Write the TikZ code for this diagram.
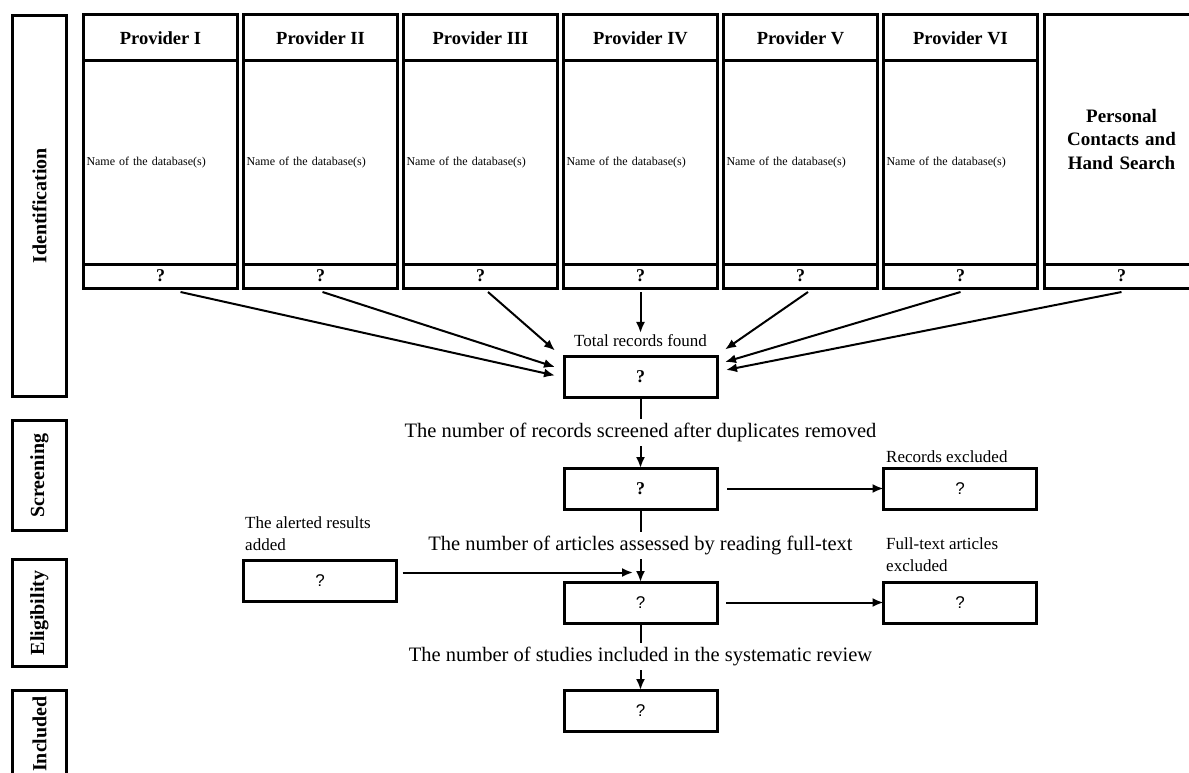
\documentclass[tikz,border=0pt]{standalone}
\usepackage{fontspec}
\setmainfont{Liberation Serif}
\setsansfont{Liberation Sans}
\usetikzlibrary{arrows.meta,positioning,calc}

\begin{document}
\begin{tikzpicture}[
    x=1pt, y=-1pt,
    node distance=0pt,
    phase/.style={rectangle, draw, line width=3pt, minimum height=54pt, rotate=90, inner sep=0pt, font=\fontsize{20}{24}\selectfont\bfseries},
    headbox/.style={rectangle, draw, line width=3pt, minimum width=154pt, minimum height=46pt, outer sep=0pt, inner sep=2pt, font=\fontsize{18.5}{22}\selectfont\bfseries},
    dbbox/.style={rectangle, draw, line width=3pt, minimum width=154pt, minimum height=203pt, outer sep=0pt, inner xsep=3pt, text width=148pt, align=left, font=\fontsize{12}{14}\selectfont},
    handbox/.style={rectangle, draw, line width=3pt, minimum width=154pt, minimum height=249pt, outer sep=0pt, text width=140pt, align=center, font=\fontsize{19}{23.5}\selectfont\bfseries},
    countbox/.style={rectangle, draw, line width=3pt, minimum width=154pt, minimum height=24pt, outer sep=0pt, inner sep=1pt, font=\fontsize{18}{20}\selectfont\bfseries},
    stagebox/.style={rectangle, draw, line width=3pt, minimum width=153pt, minimum height=41pt, outer sep=0pt, font=\fontsize{17}{20}\selectfont\sffamily},
    boldq/.style={font=\fontsize{18}{20}\selectfont\rmfamily\bfseries},
    sidelabel/.style={align=left, inner sep=1pt, font=\fontsize{17}{22}\selectfont},
    steplabel/.style={fill=white, inner xsep=2pt, inner ysep=4.5pt, font=\fontsize{20.5}{24}\selectfont},
    arrow/.style={-{Latex[length=11pt,width=9pt]}, line width=2pt}
]
\useasboundingbox (0,0) rectangle (1189,773);
\clip (0,0) rectangle (1189,773);

% Phases
\node[phase, minimum width=381pt] (ident) at (39.5,206) {Identification};
\node[phase, minimum width=110pt] (screening) at (39.5,475.5) {Screening};
\node[phase, minimum width=107pt] (eligib) at (39.5,613) {Eligibility};
\node[phase, minimum width=88pt] (included) at (39.5,734) {Included};

% Providers
\foreach \name [count=\i] in {I,II,III,IV,V,VI} {
  \node[headbox] (head\i) at ({160.5+160*(\i-1)},38) {Provider \name};
  \node[dbbox, below=of head\i] (db\i) {Name of the database(s)};
  \node[countbox, below=of db\i] (count\i) {?};
}
\node[handbox] (hand) at (1121.5,139.5) {Personal\\Contacts and\\Hand Search};
\node[countbox, below=of hand] (count7) {?};

% Flow boxes
\node[stagebox, boldq] (total) at (640.5,376.5) {?};
\node[sidelabel, anchor=south] (totlabel) at ([yshift=8.5pt]total.north) {Total records found};
\node[stagebox, boldq, below=71pt of total] (screen) {?};
\node[stagebox, below=73pt of screen] (assess) {?};
\node[stagebox, below=67pt of assess] (incl) {?};
\node[stagebox, right=166.5pt of screen] (recexcl) {?};
\node[stagebox, right=166.5pt of assess] (ftexcl) {?};
\node[stagebox] (alert) at (320,580.5) {?};

% Side labels
\node[sidelabel, anchor=south west] (recexcllabel) at ([xshift=1.5pt,yshift=4pt]recexcl.north west) {Records excluded};
\node[sidelabel, anchor=south west] (ftexcllabel) at ([xshift=1.5pt,yshift=9pt]ftexcl.north west) {Full-text articles\\excluded};
\node[sidelabel, anchor=south west] (alertlabel) at ([xshift=0.5pt,yshift=8.5pt]alert.north west) {The alerted results\\added};

% Providers to total
\draw[arrow] ([xshift=20pt,yshift=-4pt]count1.south) -- ([xshift=-9pt,yshift=1pt]total.west);
\draw[arrow] ([xshift=2pt,yshift=-4pt]count2.south) -- ([xshift=-9pt,yshift=9.5pt]total.west);
\draw[arrow] ([xshift=7.5pt,yshift=-4pt]count3.south) -- ([xshift=-9pt,yshift=26pt]total.west);
\draw[arrow] ([yshift=-4pt]count4.south) -- (totlabel.north);
\draw[arrow] ([xshift=7.5pt,yshift=-4pt]count5.south) -- ([xshift=8pt,yshift=27pt]total.east);
\draw[arrow] ([yshift=-4pt]count6.south) -- ([xshift=8pt,yshift=14.5pt]total.east);
\draw[arrow] ([yshift=-4pt]count7.south) -- ([xshift=9pt,yshift=6.5pt]total.east);

% Main flow
\draw[arrow] (total) -- node[steplabel] {The number of records screened after duplicates removed} (screen);
\draw[arrow] (screen) -- node[steplabel] {The number of articles assessed by reading full-text} (assess);
\draw[arrow] (assess) -- node[steplabel] {The number of studies included in the systematic review} (incl);

% Exclusions
\draw[arrow, shorten <=10pt] (screen) -- (recexcl);
\draw[arrow, shorten <=9pt] (assess) -- (ftexcl);

% Alerts
\coordinate (join) at ([xshift=-7.5pt,yshift=9.5pt]assess.north);
\draw[arrow, shorten <=6pt] (alert.east |- join) -- (join);

\end{tikzpicture}
\end{document}
